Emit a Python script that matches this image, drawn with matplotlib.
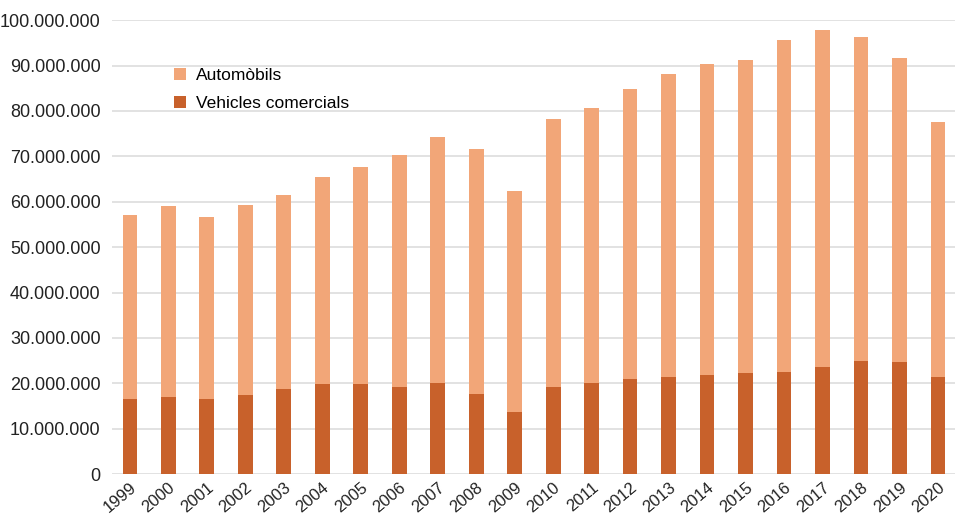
import matplotlib
matplotlib.use("Agg")
import matplotlib.pyplot as plt
from matplotlib.ticker import FuncFormatter

years = [str(y) for y in range(1999, 2021)]
total = [57.0, 59.0, 56.6, 59.3, 61.5, 65.4, 67.6, 70.3, 74.2, 71.6, 62.3,
         78.2, 80.6, 84.8, 88.1, 90.3, 91.2, 95.6, 97.8, 96.3, 91.6, 77.5]
comercials = [16.5, 17.0, 16.5, 17.4, 18.7, 19.8, 19.8, 19.2, 20.1, 17.6, 13.7,
              19.2, 20.1, 21.0, 21.5, 21.9, 22.3, 22.6, 23.6, 25.0, 24.7, 21.5]
automobils = [round(t - c, 1) for t, c in zip(total, comercials)]
comercials_v = [c * 1e6 for c in comercials]
automobils_v = [a * 1e6 for a in automobils]

plt.rcParams['font.family'] = ['Liberation Sans', 'DejaVu Sans']

fig = plt.figure(figsize=(9.55, 5.16), dpi=100)
ax = fig.add_axes([0.117, 0.081, 0.883, 0.880])

light = '#F2A678'
dark = '#C8612B'
x = list(range(len(years)))
ax.bar(x, comercials_v, width=0.38, color=dark, label='Vehicles comercials', zorder=3)
ax.bar(x, automobils_v, width=0.38, bottom=comercials_v, color=light, label='Automòbils', zorder=3)

ax.set_ylim(0, 100e6)
ax.set_xlim(-0.47, 21.44)
ax.set_yticks([i * 10e6 for i in range(11)])
ax.yaxis.set_major_formatter(FuncFormatter(lambda v, p: '0' if v == 0 else f"{int(v):,}".replace(',', '.')))
ax.set_xticks(x)
ax.set_xticklabels(years, rotation=40, ha='right', rotation_mode='anchor')
ax.tick_params(axis='y', length=0, labelsize=13, colors='#222222', pad=8)
ax.tick_params(axis='x', length=0, labelsize=12, colors='#222222', pad=4)
ax.grid(axis='y', color='#dddddd', linewidth=1.2, zorder=0)
for s in ax.spines.values():
    s.set_visible(False)

h, l = ax.get_legend_handles_labels()
leg = ax.legend(h[::-1], l[::-1], loc='upper left', bbox_to_anchor=(0.055, 0.93),
                frameon=False, fontsize=12.5, handlelength=0.7, handleheight=0.7,
                handletextpad=0.6, labelspacing=0.75)

fig.savefig('out.png', dpi=100)
